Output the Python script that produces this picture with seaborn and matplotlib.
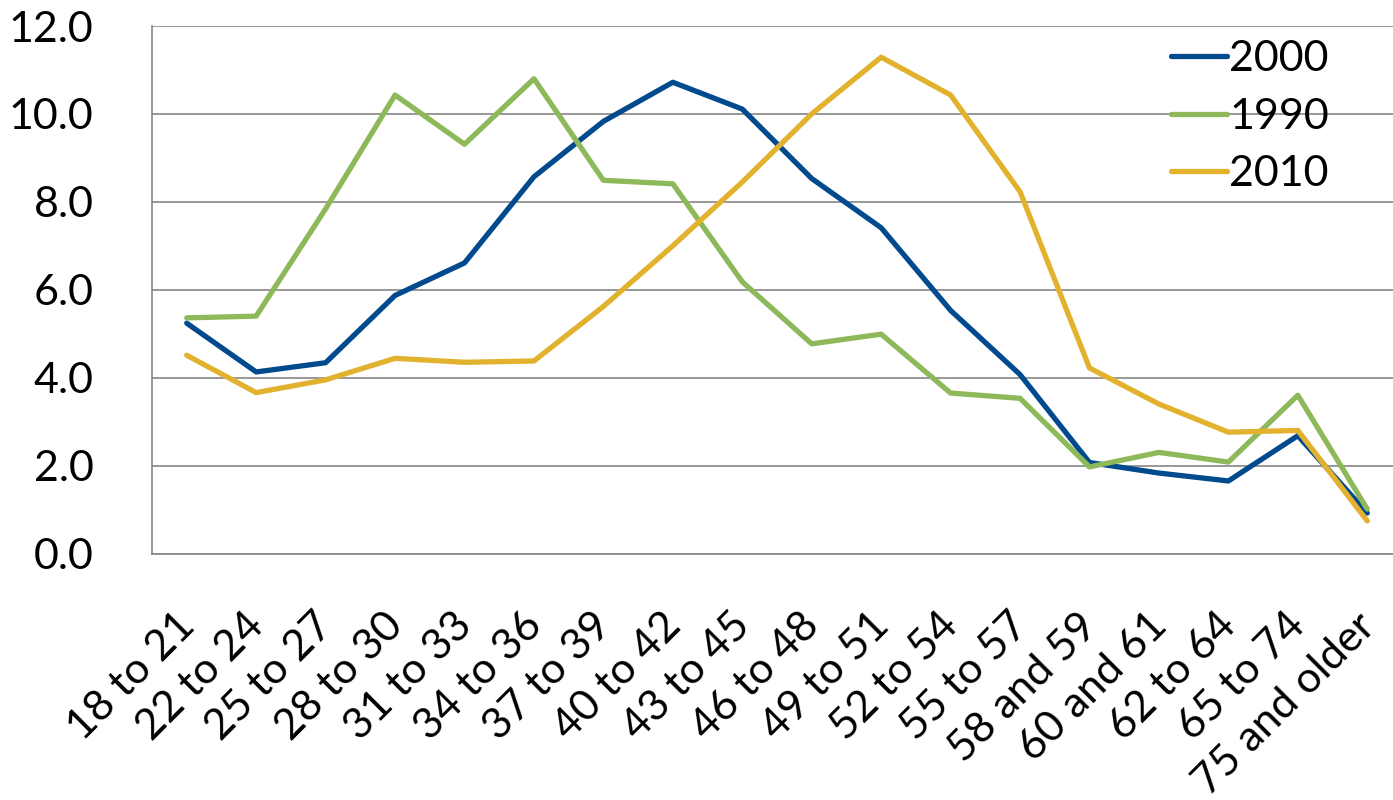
import pandas as pd
import numpy as np
import matplotlib
matplotlib.use("Agg")
import matplotlib.pyplot as plt
import matplotlib.transforms as mtransforms
import seaborn as sns

# age groups along the x axis
age_groups = ["18 to 21", "22 to 24", "25 to 27", "28 to 30", "31 to 33", "34 to 36",
              "37 to 39", "40 to 42", "43 to 45", "46 to 48", "49 to 51", "52 to 54",
              "55 to 57", "58 and 59", "60 and 61", "62 to 64", "65 to 74", "75 and older"]

# values
vals_2000 = [5.24, 4.13, 4.34, 5.87, 6.61, 8.57, 9.83, 10.72, 10.11, 8.53, 7.41, 5.53,
             4.07, 2.07, 1.83, 1.65, 2.68, 0.92]
vals_1990 = [5.36, 5.40, 7.84, 10.43, 9.31, 10.80, 8.49, 8.41, 6.18, 4.77, 4.99, 3.65,
             3.53, 1.97, 2.30, 2.08, 3.60, 1.01]
vals_2010 = [4.51, 3.66, 3.95, 4.44, 4.35, 4.38, 5.62, 7.00, 8.45, 10.00, 11.29, 10.43,
             8.23, 4.22, 3.40, 2.76, 2.80, 0.74]

series_names = ["2000", "1990", "2010"]
series_colors = ["#004A8D", "#8DB95A", "#E2B22F"]

# long-form table for seaborn
df = pd.concat([
    pd.DataFrame({"age": age_groups, "value": v, "year": name})
    for name, v in zip(series_names, [vals_2000, vals_1990, vals_2010])
])

sns.set_style("white")
plt.rcParams["font.family"] = ["Lato", "DejaVu Sans"]
plt.rcParams["text.color"] = "black"

fig = plt.figure(figsize=(13.93, 8.0), dpi=100)
ax = fig.add_axes([152 / 1393, 1 - 553.5 / 800, (1402 - 152) / 1393, (553.5 - 26) / 800])

sns.lineplot(data=df, x="age", y="value", hue="year", hue_order=series_names,
             palette=series_colors, linewidth=3.8, sort=False, ax=ax)

grid_col = "#868686"
ax.set_xlim(-0.5, len(age_groups) - 0.5)
ax.set_ylim(0, 12)
ax.set_yticks(np.arange(0, 13, 2))
ax.set_yticklabels([f"{t:.1f}" for t in np.arange(0, 13, 2)])
ax.yaxis.grid(True, color=grid_col, linewidth=1.2)
ax.set_axisbelow(True)

# category boundaries as minor ticks, labels on major ticks
ax.set_xticks(np.arange(len(age_groups)))
ax.set_xticks(np.arange(-0.5, len(age_groups), 1.0), minor=True)
ax.set_xticklabels(age_groups, rotation=45, ha="right", va="top", rotation_mode="anchor")
ax.tick_params(axis="x", which="major", length=0, pad=38, labelsize=31, labelcolor="black")
ax.tick_params(axis="x", which="minor", length=11, width=1.2, color=grid_col, direction="out")
ax.tick_params(axis="y", length=11, width=1.2, color=grid_col, direction="out",
               pad=31, labelsize=31, labelcolor="black")

# nudge rotated labels a bit left so their ends sit under the category
shift = mtransforms.ScaledTranslation(-12 / 100, 0, fig.dpi_scale_trans)
for lbl in ax.get_xticklabels():
    lbl.set_transform(lbl.get_transform() + shift)

for side in ["top", "right"]:
    ax.spines[side].set_visible(False)
for side in ["left", "bottom"]:
    ax.spines[side].set_color(grid_col)
    ax.spines[side].set_linewidth(1.2)

ax.set_xlabel("")
ax.set_ylabel("")

handles, labels = ax.get_legend_handles_labels()
ax.legend(handles, labels, loc="upper left", bbox_to_anchor=(1154 / 1393, 1 - 23 / 800),
          bbox_transform=fig.transFigure, frameon=False, fontsize=31,
          handlelength=1.3, handletextpad=0.05, labelspacing=0.45, borderaxespad=0)

fig.savefig("out.png", dpi=100)
